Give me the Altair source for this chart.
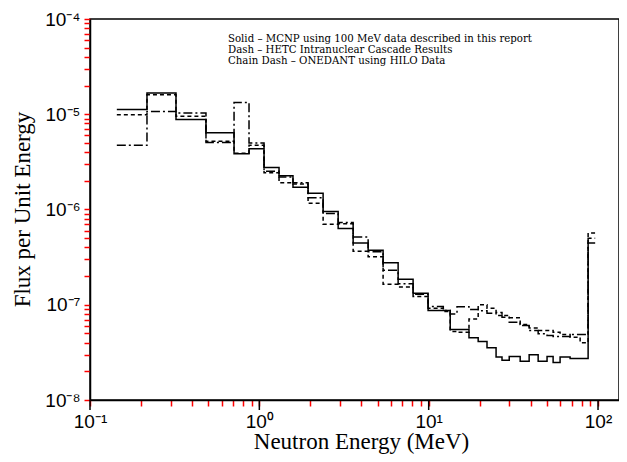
import altair as alt
import pandas as pd

# ---- data (bin edges in MeV, flux per unit energy) ----
edges = [0.144, 0.217, 0.322, 0.484, 0.709, 0.869, 1.066, 1.307, 1.58, 1.94,
         2.38, 2.92, 3.58, 4.39, 5.38, 6.60, 8.09, 9.92, 12.2, 13.4,
         14.7, 17.3, 19.6, 22.1, 25.0, 27.1, 29.9, 34.7, 39.2, 44.3,
         50.0, 54.3, 59.7, 68.4, 78.4, 87.4, 96.2]

mcnp = [1.12e-5, 1.67e-5, 8.8e-6, 6.4e-6, 3.86e-6, 4.35e-6, 2.76e-6, 2.26e-6, 1.71e-6,
        1.48e-6, 9.5e-7, 6.3e-7, 4.46e-7, 3.74e-7, 2.76e-7, 1.85e-7, 1.32e-7, 8.7e-8,
        8.7e-8, 5.5e-8, 5.5e-8, 4.5e-8, 4.12e-8, 3.54e-8, 2.82e-8, 2.61e-8, 2.87e-8,
        2.55e-8, 2.99e-8, 2.55e-8, 2.87e-8, 2.47e-8, 2.82e-8, 2.72e-8, 2.72e-8, 4.46e-7]

hetc = [9.9e-6, 1.60e-5, 9.5e-6, 5.2e-6, 3.9e-6, 4.72e-6, 2.43e-6, 1.91e-6, 1.85e-6,
        1.16e-6, 7.0e-7, 7.1e-7, 3.65e-7, 3.19e-7, 1.64e-7, 1.54e-7, 1.22e-7, 9.2e-8,
        8.5e-8, 5.25e-8, 5.14e-8, 7.1e-8, 1.0e-7, 9.2e-8, 8.3e-8, 7.7e-8, 7.3e-8,
        6.2e-8, 5.7e-8, 5.37e-8, 5.37e-8, 5.14e-8, 4.87e-8, 4.57e-8, 3.98e-8, 5.66e-7]

onedant = [4.72e-6, 1.07e-5, 1.03e-5, 5.05e-6, 1.33e-5, 5.0e-6, 2.52e-6, 2.2e-6, 1.91e-6,
           1.33e-6, 9.1e-7, 7.3e-7, 5.14e-7, 3.6e-7, 2.3e-7, 1.66e-7, 1.29e-7, 9.6e-8,
           8.7e-8, 8.0e-8, 9.55e-8, 8.9e-8, 8.66e-8, 8.13e-8, 7.7e-8, 7.4e-8, 6.55e-8,
           6.04e-8, 5.37e-8, 4.96e-8, 4.75e-8, 4.63e-8, 4.63e-8, 4.87e-8, 4.87e-8, 5.0e-7]

series_names = ["MCNP", "HETC", "ONEDANT"]
series_dash = [None, [4, 3], [9, 3, 2, 3]]

x_decades = [0.1, 1, 10, 100]
x_labels = ["10\u207b\u00b9", "10\u2070", "10\u00b9", "10\u00b2"]
y_decades = [1e-8, 1e-7, 1e-6, 1e-5, 1e-4]
y_labels = ["10\u207b\u2078", "10\u207b\u2077", "10\u207b\u2076", "10\u207b\u2075", "10\u207b\u2074"]

legend_lines = [
    "Solid \u2013 MCNP using 100 MeV data described in this report",
    "Dash \u2013 HETC Intranuclear Cascade Results",
    "Chain Dash \u2013 ONEDANT using HILO Data",
]


def step_table(vals):
    rows = []
    k = 0
    for i, v in enumerate(vals):
        rows.append({"E": edges[i], "flux": v, "k": k}); k += 1
        rows.append({"E": edges[i + 1], "flux": v, "k": k}); k += 1
    return pd.DataFrame(rows)


def label_expr(decades, labels):
    expr = "''"
    for d, l in zip(reversed(decades), reversed(labels)):
        expr = f"abs(datum.value / {d!r} - 1) < 0.001 ? '{l}' : ({expr})"
    return expr


x_ticks = [round(m * 10.0 ** e, 6) for e in range(-1, 2) for m in range(1, 10)] + [100]
y_ticks = [float(f"{m}e{e}") for e in range(-8, -4) for m in range(1, 10)] + [1e-4]

W, H = 529, 381
xscale = alt.Scale(type="log", domain=[0.1, 133], nice=False)
yscale = alt.Scale(type="log", domain=[1e-8, 1e-4], nice=False)

x_axis = alt.Axis(
    values=x_ticks, grid=False,
    labelExpr=label_expr(x_decades, x_labels), labelFont="Liberation Sans",
    labelFontSize=19, labelColor="black", labelPadding=6, labelFlush=False,
    labelOverlap=False, labelBound=False,
    title="Neutron Energy (MeV)", titleFont="Liberation Serif", titleFontSize=23,
    titleFontWeight="normal", titleColor="black", titleBaseline="alphabetic",
    titleX=271, titleY=48, titleAlign="center",
    domainColor="black", domainWidth=1.5, tickColor="red", tickWidth=1.5, tickSize=6)
y_axis = alt.Axis(
    values=y_ticks, grid=False,
    labelExpr=label_expr(y_decades, y_labels), labelFont="Liberation Sans",
    labelFontSize=19, labelColor="black", labelPadding=4, labelFlush=False,
    labelOverlap=False, labelBound=False, labelBaseline="middle",
    title="Flux per Unit Energy", titleFont="Liberation Serif", titleFontSize=23,
    titleFontWeight="normal", titleColor="black", titleAngle=270,
    titleBaseline="alphabetic", titleX=-61, titleY=190, titleAlign="center",
    domainColor="black", domainWidth=1.5, tickColor="red", tickWidth=1.5, tickSize=6)

line_layers = []
for name, vals, dash in zip(series_names, [mcnp, hetc, onedant], series_dash):
    mk = {"color": "black", "strokeWidth": 1.5}
    if dash is not None:
        mk["strokeDash"] = dash
    line_layers.append(
        alt.Chart(step_table(vals)).mark_line(**mk).encode(
            x=alt.X("E:Q", scale=xscale, axis=x_axis),
            y=alt.Y("flux:Q", scale=yscale, axis=y_axis),
            order=alt.Order("k:Q"),
        )
    )

xdf = pd.DataFrame({"E": x_decades})
# longer major ticks at the decades of the energy axis
x_major = alt.Chart(xdf).mark_rule(color="black", strokeWidth=1.5).encode(
    x=alt.X("E:Q", scale=xscale, axis=x_axis), y=alt.value(H), y2=alt.value(H + 10))

legend_layers = []
for i, t in enumerate(legend_lines):
    legend_layers.append(
        alt.Chart(alt.Data(values=[{"a": 1}])).mark_text(
            text=t, font="DejaVu Serif", fontSize=10.2, align="left", baseline="alphabetic",
            color="black").encode(x=alt.value(138), y=alt.value(23 + 11 * i))
    )

chart = alt.layer(*line_layers, x_major, *legend_layers).properties(
    width=W, height=H,
    autosize=alt.AutoSizeParams(type="none"),
    padding={"left": 82, "top": 11, "right": 0, "bottom": 54},
    background="white",
).configure_view(stroke="black", strokeWidth=1.5)

chart.save("out.html", embed_options={"renderer": "svg", "actions": False})
